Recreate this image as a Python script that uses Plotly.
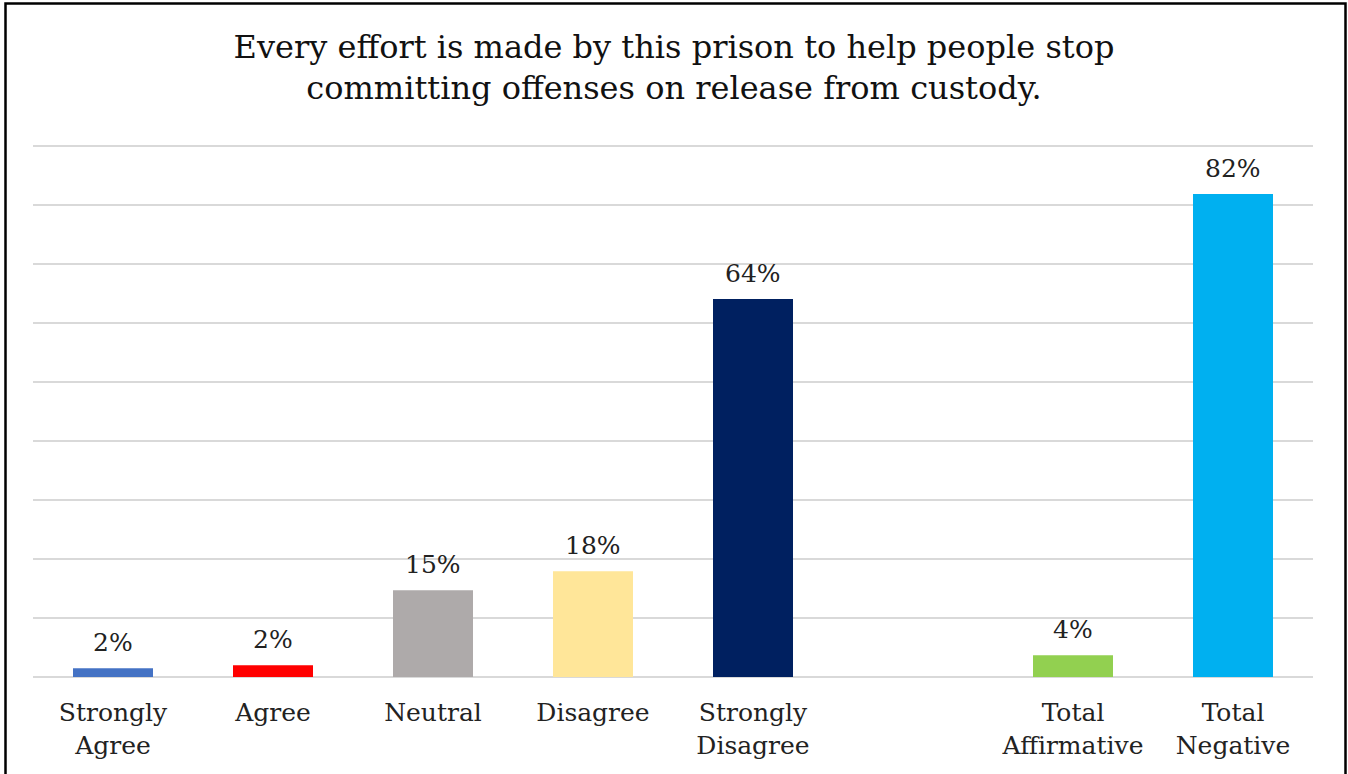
import plotly.graph_objects as go

categories = ["Strongly<br>Agree", "Agree", "Neutral", "Disagree", "Strongly<br>Disagree", " ",
              "Total<br>Affirmative", "Total<br>Negative"]
values = [1.5, 2.0, 14.7, 17.9, 64.0, None, 3.7, 81.8]
colors = ["#4472C4", "#FF0000", "#AEAAAA", "#FFE699", "#002060", "#FFFFFF", "#92D050", "#00B0F0"]
title_text = "Every effort is made by this prison to help people stop<br>committing offenses on release from custody."

FONT = "DejaVu Serif"
W, H = 1348, 774
L, R, T, B = 33, 35, 140, 97
pw = W - L - R
ph = H - T - B
px_per_pct = 531.5 / 90
y_top = ph / px_per_pct

fig = go.Figure()
fig.add_trace(go.Bar(
    x=categories, y=values, marker=dict(color=colors, line=dict(width=0)),
    width=0.5, cliponaxis=False, hoverinfo="skip",
))

for c, v in zip(categories, values):
    if v is None:
        continue
    fig.add_annotation(x=c, y=v, xref="x", yref="y", text=f"{v:.0f}%", showarrow=False,
                       yanchor="bottom", yshift=9,
                       font=dict(family=FONT, size=25, color="#222222"))

fig.add_shape(type="rect", xref="paper", yref="paper",
              x0=(5.5 - L) / pw, x1=(1345.5 - L) / pw,
              y0=(H - B - 790) / ph, y1=(H - B - 3.5) / ph,
              line=dict(color="black", width=2.5), fillcolor="rgba(0,0,0,0)", layer="above")

fig.update_layout(
    width=W, height=H, margin=dict(l=L, r=R, t=T, b=B),
    paper_bgcolor="white", plot_bgcolor="white", showlegend=False,
    title=dict(text=title_text, x=0.5, xanchor="center", y=1 - 57.5 / H, yanchor="middle",
               yref="container", font=dict(family=FONT, size=32, color="#111111")),
    xaxis=dict(type="category", showgrid=False, showline=False, zeroline=False,
               tickfont=dict(family=FONT, size=25, color="#222222"),
               ticks="outside", ticklen=13, tickcolor="rgba(0,0,0,0)"),
    yaxis=dict(range=[0, y_top], tickvals=[10, 20, 30, 40, 50, 60, 70, 80, 90],
               showticklabels=False, showgrid=True,
               gridcolor="#D9D9D9", gridwidth=2, zeroline=True, zerolinecolor="#D9D9D9",
               zerolinewidth=2, showline=False),
)

fig.write_html("out.html", config={"displayModeBar": False},
               post_script="document.body.style.margin='0';")
